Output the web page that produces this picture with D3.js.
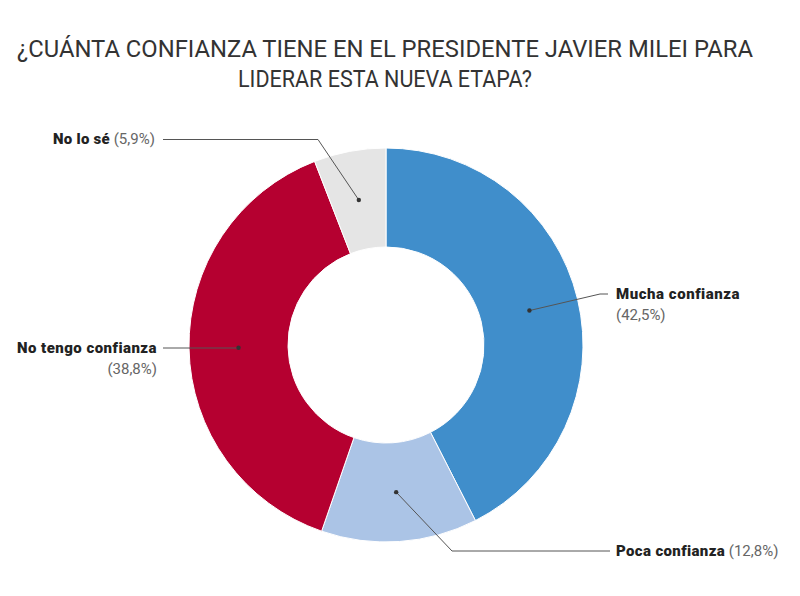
<!DOCTYPE html>
<html><head><meta charset="utf-8">
<script src="https://cdn.jsdelivr.net/npm/d3@7/dist/d3.min.js"></script>
<style>body{margin:0;background:#fff}svg{display:block}</style>
</head><body>
<svg id="c" width="800" height="596"></svg>
<script>
const categories = ["Mucha confianza", "Poca confianza", "No tengo confianza", "No lo sé"];
const values = [42.5, 12.8, 38.8, 5.9];
const valueLabels = ["(42,5%)", "(12,8%)", "(38,8%)", "(5,9%)"];
const colors = ["#408ecb", "#abc4e6", "#b50030", "#e5e5e5"];
const titleLines = ["¿CUÁNTA CONFIANZA TIENE EN EL PRESIDENTE JAVIER MILEI PARA", "LIDERAR ESTA NUEVA ETAPA?"];

// layout (not data)
const cx = 386, cy = 345, rOuter = 197, rInner = 98;
const layout = [
  {elbow:[600,294], end:[608,294], tx:616, ty:299, anchor:"start", twoLines:true, w:124},
  {elbow:[452,551], end:[610,551], tx:616, ty:556, anchor:"start", twoLines:false, w:109},
  {elbow:[238,348], end:[163,348], tx:157, ty:353, anchor:"end", twoLines:true, w:140},
  {elbow:[318,139.5], end:[163,139.5], tx:53, ty:144, anchor:"start", twoLines:false, w:57}
];

const svg = d3.select("#c");
const font = "Roboto, 'Open Sans', sans-serif";

// title
const tw = [736, 294];
titleLines.forEach((t,i)=>{
  svg.append("text").attr("x", 385).attr("y", 57 + i*30)
    .attr("text-anchor","middle").attr("font-family", font).attr("font-size", 24)
    .attr("font-weight", 400)
    .attr("fill","#333").attr("textLength", tw[i]).attr("lengthAdjust","spacingAndGlyphs")
    .text(t);
});

const data = categories.map((c,i)=>({cat:c, value:values[i], label:valueLabels[i], color:colors[i], lay:layout[i]}));
const pie = d3.pie().value(d=>d.value).sort(null);
const arc = d3.arc().innerRadius(rInner).outerRadius(rOuter);
const arcs = pie(data);
const g = svg.append("g").attr("transform", `translate(${cx},${cy})`);
g.selectAll("path").data(arcs).join("path")
  .attr("d", arc).attr("fill", d=>d.data.color)
  .attr("stroke","#fff").attr("stroke-width",1);

// leaders
arcs.forEach(a=>{
  const [x,y] = arc.centroid(a);
  const px = cx + x, py = cy + y;
  const L = a.data.lay;
  svg.append("polyline")
    .attr("points", [[px,py], L.elbow, L.end].map(p=>p.join(",")).join(" "))
    .attr("fill","none").attr("stroke","#555").attr("stroke-width",1);
  svg.append("circle").attr("cx",px).attr("cy",py).attr("r",2.2).attr("fill","#333");
  const t = svg.append("text").attr("x", L.tx).attr("y", L.ty)
    .attr("text-anchor", L.anchor).attr("font-family", font).attr("font-size", 15);
  const b = t.append("tspan").attr("font-weight", 900).attr("fill","#222").text(a.data.cat);
  if (L.twoLines) {
    svg.append("text").attr("x", L.tx).attr("y", L.ty + 21)
      .attr("text-anchor", L.anchor).attr("font-family", font).attr("font-size", 15)
      .attr("fill","#666").text(a.data.label);
  } else {
    t.append("tspan").attr("fill","#666").text(" " + a.data.label);
  }
  // fit bold label to the measured reference width
  const n = a.data.cat.length;
  const cur = b.node().getComputedTextLength();
  b.attr("letter-spacing", ((L.w - cur) / n).toFixed(2));
});
</script>
</body></html>
